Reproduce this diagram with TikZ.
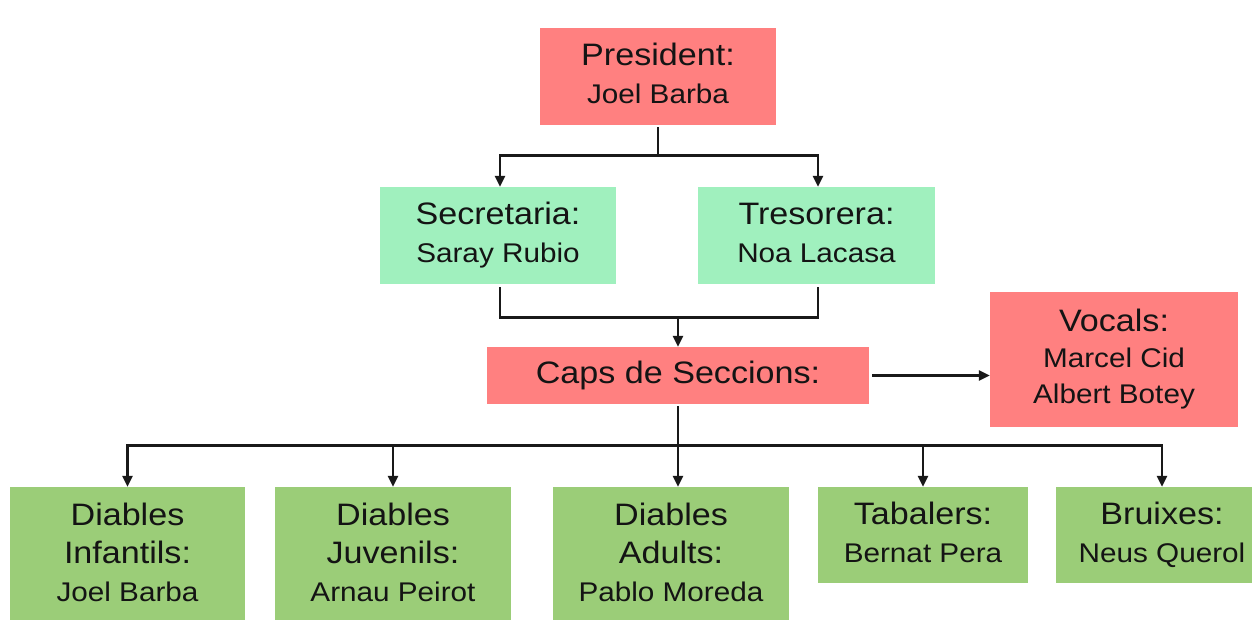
\documentclass[tikz,border=0pt]{standalone}
\usepackage{fontspec}
\setmainfont{Liberation Sans}[FakeStretch=1.1]
\usetikzlibrary{arrows.meta}
\definecolor{boxred}{RGB}{255,128,128}
\definecolor{boxmint}{RGB}{160,240,190}
\definecolor{boxgreen}{RGB}{155,205,120}
\definecolor{txt}{RGB}{20,20,20}
\definecolor{linec}{RGB}{25,25,25}
\newcommand\smallname{\fontsize{27}{38}\selectfont\vphantom{Jy}}
\tikzset{
  box/.style={inner sep=0pt, align=center, font=\fontsize{31}{38}\selectfont, text=txt},
  redbox/.style={box, fill=boxred},
  mintbox/.style={box, fill=boxmint},
  greenbox/.style={box, fill=boxgreen},
  conn/.style={line width=2.8pt, draw=linec},
  arr/.style={conn, -{Triangle[length=11pt,width=10pt]}},
}
\begin{document}
\begin{tikzpicture}[x=1pt,y=-1pt]
\useasboundingbox[fill=white] (0,0) rectangle (1258,619);
\node[redbox, minimum width=236pt, minimum height=97pt] (pres) at (658,76.5) {President:\\ \smallname Joel Barba};
\node[mintbox, minimum width=236pt, minimum height=97pt] (sec) at (498,235.5) {Secretaria:\\ \smallname Saray Rubio};
\node[mintbox, minimum width=237pt, minimum height=97pt] (tres) at (816.5,235.5) {Tresorera:\\ \smallname Noa Lacasa};
\node[redbox, minimum width=382pt, minimum height=57pt] (cap) at (678,375.5) {Caps de Seccions:};
\node[redbox, minimum width=248pt, minimum height=135pt, font=\fontsize{31}{36}\selectfont] (voc) at (1114,359.5) {Vocals:\\ \smallname Marcel Cid\\ \smallname Albert Botey};
\node[greenbox, minimum width=235pt, minimum height=136pt] (inf) at (127.5,555) {Diables\\ Infantils:\\ \smallname Joel Barba};
\node[greenbox, minimum width=236pt, minimum height=136pt] (jun) at (393,555) {Diables\\ Juvenils:\\ \smallname Arnau Peirot};
\node[greenbox, minimum width=236pt, minimum height=136pt] (adu) at (671,555) {Diables\\ Adults:\\ \smallname Pablo Moreda};
\node[greenbox, minimum width=210pt, minimum height=96pt] (tab) at (923,535) {Tabalers:\\ \smallname Bernat Pera};
\node[greenbox, minimum width=196pt, minimum height=96pt] (bru) at (1154,535) {\hspace*{16pt}Bruixes:\\ \smallname\hspace*{16pt}Neus Querol};
% president to secretaria / tresorera
\draw[arr, shorten <=2pt] (pres.south) -- ++(0,30) -| ([xshift=2pt]sec.north);
\draw[arr, shorten <=2pt] (pres.south) -- ++(0,30) -| ([xshift=1.5pt]tres.north);
% secretaria & tresorera join to caps
\draw[conn, shorten <=3pt, shorten >=3pt] ([xshift=2pt]sec.south) -- ++(0,33) -| ([xshift=1.5pt]tres.south);
\draw[arr] (cap.north) ++(0,-30) -- (cap.north);
% caps to vocals
\draw[arr, shorten <=3pt] (cap.east) -- (cap.east -| voc.west);
% caps to sections
\draw[arr, shorten <=2pt] (cap.south) -- ++(0,41) -| (inf.north);
\draw[arr, shorten <=2pt] (cap.south) -- ++(0,41) -| (jun.north);
\draw[arr, shorten <=2pt] (cap.south) -- (cap.south |- adu.north);
\draw[arr, shorten <=2pt] (cap.south) -- ++(0,41) -| (tab.north);
\draw[arr, shorten <=2pt] (cap.south) -- ++(0,41) -| ([xshift=8pt]bru.north);
\end{tikzpicture}
\end{document}
